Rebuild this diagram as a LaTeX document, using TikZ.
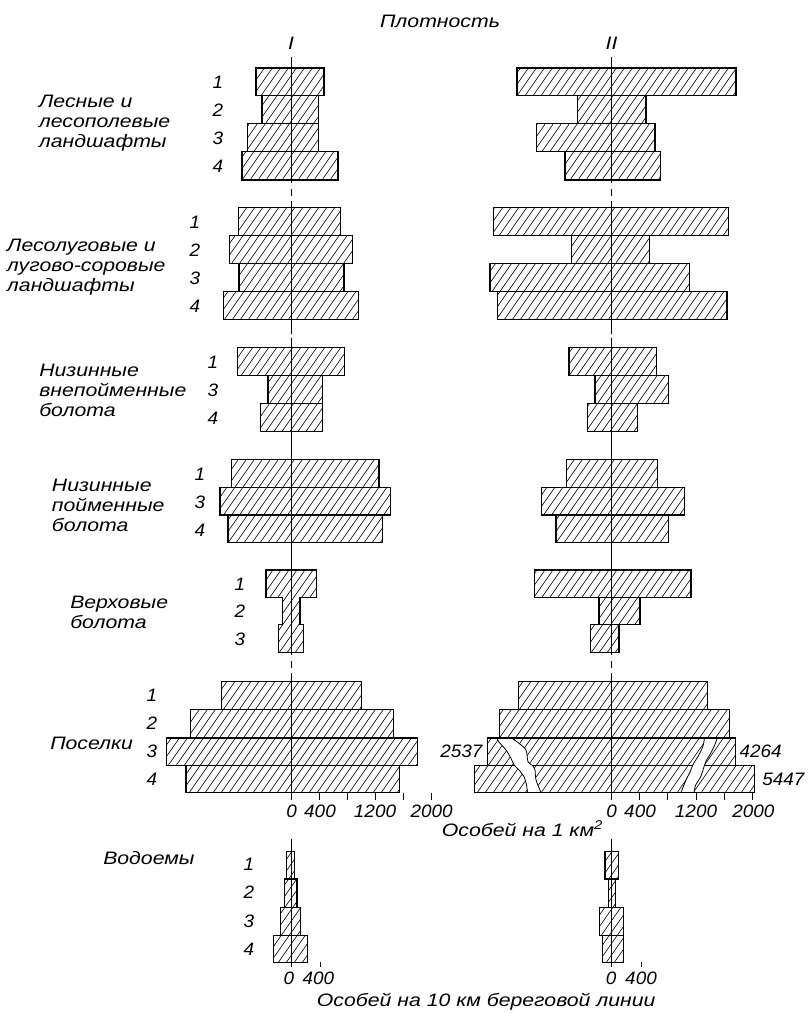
\documentclass[tikz,border=0pt]{standalone}
\usepackage{fontspec}
\newfontfamily\labfont{Liberation Sans}[FakeStretch=1.18]
\newfontfamily\numfont{Liberation Sans}[FakeStretch=1.05]
\def\hs{8}   % horizontal spacing of the hatching
\def\hk{0.7} % cot of the hatching angle
% hatched bar: x-left, x-right, y-top, y-bottom (pixel-like units, y downwards)
\newcommand\hatchbox[4]{%
  \begin{scope}
    \clip (#1,#3) rectangle (#2,#4);
    \pgfmathtruncatemacro\na{floor((#1+#3*\hk)/\hs)}
    \pgfmathtruncatemacro\nb{ceil((#2+#4*\hk)/\hs)}
    \foreach \n in {\na,...,\nb}
      \draw[hatchline] ({\n*\hs-#3*\hk},#3) -- ({\n*\hs-#4*\hk},#4);
  \end{scope}
  \draw[barline] (#1,#3) rectangle (#2,#4);
}
\begin{document}
\begin{tikzpicture}[x=0.75pt,y=-0.75pt,
  barline/.style={line width=0.85pt},
  hatchline/.style={line width=0.45pt},
  axisline/.style={line width=0.7pt},
  gapline/.style={line width=0.6pt},
  lab/.style={font=\labfont\itshape\fontsize{13.5}{15}\selectfont, inner sep=0pt},
  num/.style={font=\numfont\itshape\fontsize{13.5}{15}\selectfont, inner sep=0pt},
  grpname/.style={lab, anchor=west, align=left},
]
\useasboundingbox (0,0) rectangle (807,1013);

% ---- heading
\node[lab] (title) at (440,21) {Плотность};
\node[lab] (colI) at (291,43) {I};
\node[lab] (colII) at (611.5,43) {II};

% ---- forest and forest-field landscapes
\hatchbox{256}{324}{68}{95.7}
\hatchbox{262}{318.5}{95.7}{123.3}
\hatchbox{247.5}{318.5}{123.3}{151.7}
\hatchbox{242}{338}{151.7}{180}
\hatchbox{517}{736}{68}{95.7}
\hatchbox{577.5}{646}{95.7}{123.3}
\hatchbox{536.5}{655}{123.3}{151.7}
\hatchbox{565}{660.5}{151.7}{180}
\node[grpname] (g1) at (38.6,123) {Лесные и\\лесополевые\\ландшафты};
\node[num] (g1r1) at (218,82.5) {1};
\node[num] (g1r2) at (218,110.5) {2};
\node[num] (g1r3) at (218,138.5) {3};
\node[num] (g1r4) at (218,166.5) {4};

% ---- forest-meadow landscapes
\hatchbox{238.5}{340.5}{207.3}{235.3}
\hatchbox{229.3}{352.4}{235.3}{263.3}
\hatchbox{239}{344}{263.3}{291.3}
\hatchbox{223.6}{358.6}{291.3}{319.3}
\hatchbox{493.6}{728.5}{207.3}{235.3}
\hatchbox{571.3}{649.7}{235.3}{263.3}
\hatchbox{490}{689.8}{263.3}{291.3}
\hatchbox{497.2}{727}{291.3}{319.3}
\node[grpname] (g2) at (6.7,266.7) {Лесолуговые и\\лугово-соровые\\ландшафты};
\node[num] (g2r1) at (195,222.5) {1};
\node[num] (g2r2) at (195,250.5) {2};
\node[num] (g2r3) at (195,278.5) {3};
\node[num] (g2r4) at (195,306.5) {4};

% ---- lowland bogs outside floodplain
\hatchbox{237.3}{344.3}{347.7}{375.7}
\hatchbox{268}{322.3}{375.7}{403.7}
\hatchbox{260.7}{322.3}{403.7}{431.7}
\hatchbox{569}{656.3}{347.7}{375.7}
\hatchbox{595}{668.7}{375.7}{403.7}
\hatchbox{587.3}{637.3}{403.7}{431.7}
\node[grpname] (g3) at (39,390) {Низинные\\внепойменные\\болота};
\node[num] (g3r1) at (213,362.5) {1};
\node[num] (g3r3) at (213,390.5) {3};
\node[num] (g3r4) at (213,418.5) {4};

% ---- lowland floodplain bogs
\hatchbox{231.7}{379}{459.3}{487.3}
\hatchbox{220}{390.7}{487.3}{515}
\hatchbox{228}{382.7}{515}{542.7}
\hatchbox{566.7}{657.3}{459.3}{487.3}
\hatchbox{541.3}{684.3}{487.3}{515}
\hatchbox{556}{668.7}{515}{542.7}
\node[grpname] (g4) at (51.7,505) {Низинные\\пойменные\\болота};
\node[num] (g4r1) at (200,474) {1};
\node[num] (g4r3) at (200,502) {3};
\node[num] (g4r4) at (200,530) {4};

% ---- raised bogs (left column drawn as one outline)
\begin{scope}
  \clip (266,570) -- (316.7,570) -- (316.7,597.3) -- (300,597.3) -- (300,624.3)
    -- (303.7,624.3) -- (303.7,652.3) -- (278.3,652.3) -- (278.3,624.3)
    -- (282.7,624.3) -- (282.7,597.3) -- (266,597.3) -- cycle;
  \pgfmathtruncatemacro\na{floor((266+570*\hk)/\hs)}
  \pgfmathtruncatemacro\nb{ceil((316.7+652.3*\hk)/\hs)}
  \foreach \n in {\na,...,\nb}
    \draw[hatchline] ({\n*\hs-570*\hk},570) -- ({\n*\hs-652.3*\hk},652.3);
\end{scope}
\draw[barline] (266,570) -- (316.7,570) -- (316.7,597.3) -- (300,597.3) -- (300,624.3)
    -- (303.7,624.3) -- (303.7,652.3) -- (278.3,652.3) -- (278.3,624.3)
    -- (282.7,624.3) -- (282.7,597.3) -- (266,597.3) -- cycle;
\hatchbox{534.3}{691}{570}{597.3}
\hatchbox{599}{640}{597.3}{624.3}
\hatchbox{590.7}{619}{624.3}{652.3}
\node[grpname] (g5) at (70,612.5) {Верховые\\болота};
\node[num] (g5r1) at (240,584) {1};
\node[num] (g5r2) at (240,611.5) {2};
\node[num] (g5r3) at (240,639) {3};

% ---- settlements
\hatchbox{221.3}{361.7}{681.7}{709.5}
\hatchbox{190.7}{393.3}{709.5}{738}
\hatchbox{166.7}{417.7}{738}{765.5}
\hatchbox{186}{399.3}{765.5}{792.5}
\hatchbox{518.3}{707.3}{681.7}{709.5}
\hatchbox{499.3}{729.3}{709.5}{738}
\hatchbox{487.5}{735.5}{738}{765.5}
\hatchbox{474.2}{754.5}{765.5}{792.5}
% breaks in the two longest bars
\fill[white] plot[smooth] coordinates {(497,738) (499,742) (506,750) (511,758.3)
    (514,765) (519,770) (524,776.7) (526.5,785) (527.5,792.5)}
  -- plot[smooth] coordinates {(541,792.5) (536,780) (535,770) (532.5,765.5) (528,761.7)
    (526,750) (519,743.3) (511.5,738)} -- cycle;
\fill[white] plot[smooth] coordinates {(704.5,738) (702.8,746.7) (698.8,755) (692.8,765)
    (690.2,771.7) (686,780) (681,792.5)}
  -- plot[smooth] coordinates {(694,792.5) (695.7,785) (700.7,776.7) (704,766.7) (705.7,761.7)
    (710.7,753.3) (714.7,745) (717.2,738)} -- cycle;
\draw[gapline] plot[smooth] coordinates {(497,738) (499,742) (506,750) (511,758.3)
    (514,765) (519,770) (524,776.7) (526.5,785) (527.5,792.5)};
\draw[gapline] plot[smooth] coordinates {(511.5,738) (519,743.3) (526,750) (528,761.7)
    (532.5,765.5) (535,770) (536,780) (541,792.5)};
\draw[gapline] plot[smooth] coordinates {(704.5,738) (702.8,746.7) (698.8,755) (692.8,765)
    (690.2,771.7) (686,780) (681,792.5)};
\draw[gapline] plot[smooth] coordinates {(717.2,738) (714.7,745) (710.7,753.3) (705.7,761.7)
    (704,766.7) (700.7,776.7) (695.7,785) (694,792.5)};
\draw[barline] (487.5,738) -- (735.5,738);
\draw[barline] (474.2,792.5) -- (754.5,792.5);
\node[num, anchor=east] (v2537) at (482.7,751.5) {2537};
\node[num, anchor=west] (v4264) at (739.3,751.5) {4264};
\node[num, anchor=west] (v5447) at (762,779) {5447};
\node[grpname] (g6) at (50,743) {Поселки};
\node[num] (g6r1) at (152,695.5) {1};
\node[num] (g6r2) at (152,723.5) {2};
\node[num] (g6r3) at (152,751.5) {3};
\node[num] (g6r4) at (152,779.5) {4};

% ---- density axes with scale ticks
\foreach \s/\e in {57/183, 189/196, 201/334, 338/655, 661/668, 673/800} {
  \draw[axisline] (291,\s) -- (291,\e);
  \draw[axisline] (611.5,\s) -- (611.5,\e);
}
\foreach \t in {1,...,5} {
  \draw[axisline] ({291+\t*28.1},792.5) -- ({291+\t*28.1},800);
  \draw[axisline] ({611.5+\t*28.2},792.5) -- ({611.5+\t*28.2},800);
}
\node[num] (tI0) at (291.7,811) {0};
\node[num] (tI400) at (320,811) {400};
\node[num] (tI1200) at (375,811) {1200};
\node[num] (tI2000) at (431.7,811) {2000};
\node[num] (tII0) at (611.7,811) {0};
\node[num] (tII400) at (640,811) {400};
\node[num] (tII1200) at (696,811) {1200};
\node[num] (tII2000) at (753.3,811) {2000};
\node[lab, anchor=west] (unit1) at (441.7,829) {Особей на 1 км\textsuperscript{2}};

% ---- water bodies
\hatchbox{286.7}{294.3}{851.7}{879}
\hatchbox{284.3}{297}{879}{907.3}
\hatchbox{280.3}{300.7}{907.3}{935.3}
\hatchbox{273.7}{307.3}{935.3}{962.3}
\hatchbox{605}{618.3}{851.7}{879}
\hatchbox{608.3}{615.7}{879}{907.3}
\hatchbox{599.3}{623.3}{907.3}{935.3}
\hatchbox{602.7}{623.3}{935.3}{962.3}
\draw[axisline] (291,839) -- (291,967);
\draw[axisline] (611.5,839) -- (611.5,967);
\draw[axisline] (320,962.3) -- (320,967);
\draw[axisline] (641,962.3) -- (641,967);
\node[grpname] (g7) at (103,858) {Водоемы};
\node[num] (g7r1) at (249,864) {1};
\node[num] (g7r2) at (249,892.5) {2};
\node[num] (g7r3) at (249,921) {3};
\node[num] (g7r4) at (249,949.5) {4};
\node[num] (wI0) at (289,978) {0};
\node[num] (wI400) at (318.3,978) {400};
\node[num] (wII0) at (611,978) {0};
\node[num] (wII400) at (641,978) {400};
\node[lab, anchor=west] (unit2) at (316.7,1001.7) {Особей на 10 км береговой линии};
\end{tikzpicture}
\end{document}
